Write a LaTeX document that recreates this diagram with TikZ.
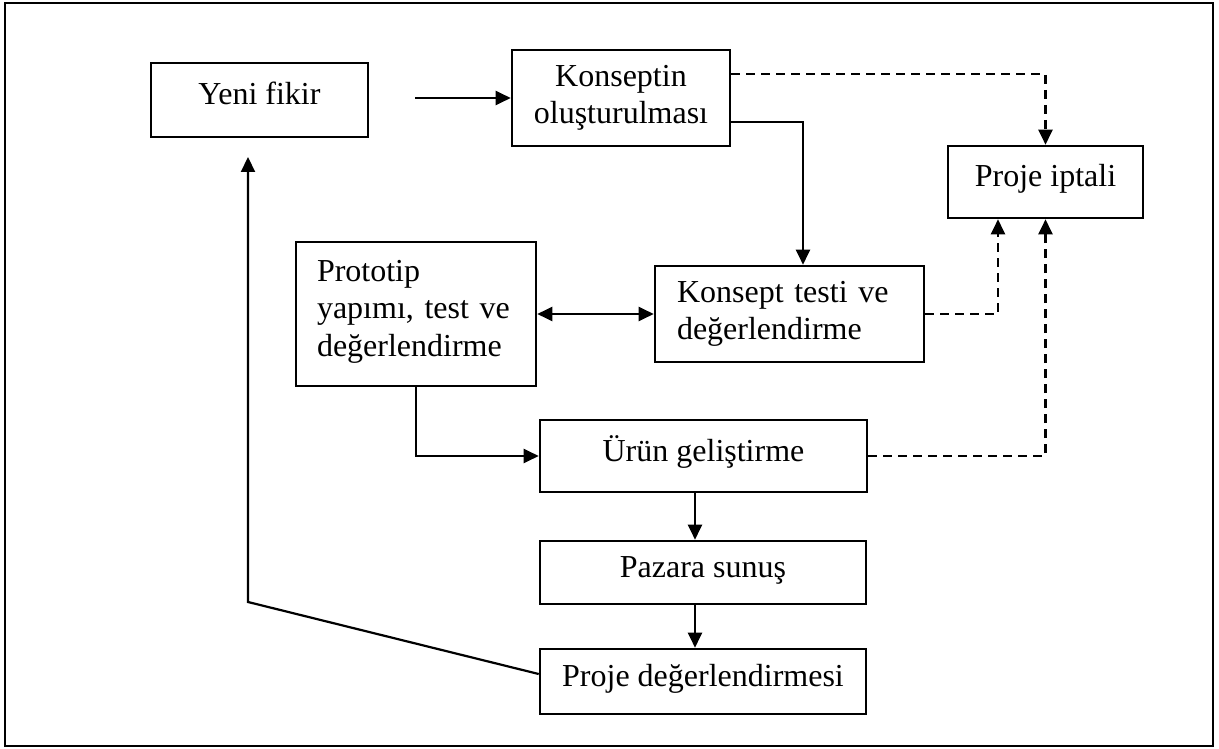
\documentclass[tikz,border=0pt]{standalone}
\usepackage{fontspec}
\setmainfont{Liberation Serif}
\usetikzlibrary{arrows.meta}

\tikzset{
  box/.style={draw, line width=2.6pt, rectangle, inner sep=0pt, anchor=center,
              font=\fontsize{32}{37.5}\selectfont},
  oneline/.style={box, text height=20pt, text depth=10pt},
  link/.style={line width=2.2pt},
  arr/.style={link, -{Triangle[length=15pt,width=14pt]}},
  dblarr/.style={link, {Triangle[length=15pt,width=14pt]}-{Triangle[length=15pt,width=14pt]}},
  dsh/.style={arr, dash pattern=on 9pt off 6pt},
}

\begin{document}
\begin{tikzpicture}[x=1pt, y=-1pt]
  \useasboundingbox (0,0) rectangle (1219,749);
  \draw[line width=2.6pt] (5,3) rectangle (1213,746);

  % process boxes
  \node[oneline, minimum width=217pt, minimum height=74pt] (yeni) at (259.5,100) {Yeni fikir};
  \node[box, minimum width=218pt, minimum height=96pt, align=center] (kons) at (621,98)
    {Konseptin\\oluşturulması};
  \node[oneline, minimum width=195pt, minimum height=72pt] (iptal) at (1045.5,182) {Proje iptali};
  \node[box, minimum width=240pt, minimum height=144pt, inner xsep=21pt,
        text width=198pt, align=left] (proto) at (416,314)
    {Prototip\\yapımı, test ve\\değerlendirme\strut};
  \node[box, minimum width=269pt, minimum height=96pt, inner xsep=22pt,
        text width=225pt, align=left] (ktest) at (789.5,314)
    {Konsept testi ve\\değerlendirme};
  \node[oneline, minimum width=327pt, minimum height=72pt] (urun) at (703.5,456) {Ürün geliştirme};
  \node[oneline, minimum width=326pt, minimum height=63pt] (pazar) at (703,572.5) {Pazara sunuş};
  \node[oneline, minimum width=326pt, minimum height=65pt] (pdeg) at (703,681.5) {Proje değerlendirmesi};

  % free ends and bends
  \coordinate (ystart) at (415,98);
  \coordinate (fbend) at (248,602);
  \coordinate (ftip) at (248,157);

  % solid flow
  \draw[arr] (ystart) -- (kons.west);
  \draw[arr] ([yshift=-24pt]kons.east) -| ([xshift=13.5pt]ktest.north);
  \draw[dblarr] (proto.east) -- (ktest.west);
  \draw[arr] (proto.south) |- (urun.west);
  \draw[arr] ([xshift=-8.5pt]urun.south) -- ([xshift=-8pt]pazar.north);
  \draw[arr] ([xshift=-8pt]pazar.south) -- ([xshift=-8pt]pdeg.north);
  \draw[arr] ([yshift=7.5pt]pdeg.west) -- (fbend) -- (ftip);

  % cancellation paths
  \draw[dsh] ([yshift=24pt]kons.east) -| (iptal.north);
  \draw[dsh] (ktest.east) -| ([xshift=-47.5pt]iptal.south);
  \draw[dsh] (urun.east) -| (iptal.south);
\end{tikzpicture}
\end{document}
